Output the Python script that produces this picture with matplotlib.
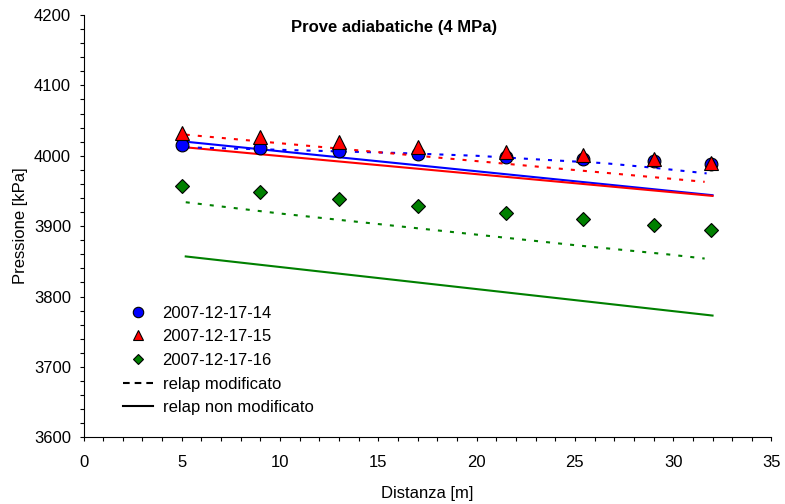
import matplotlib
matplotlib.use('Agg')
import matplotlib.pyplot as plt
from matplotlib.lines import Line2D
from matplotlib.ticker import MultipleLocator

plt.rcParams['font.family'] = ['Liberation Sans', 'DejaVu Sans']
plt.rcParams['lines.scale_dashes'] = False

# dati sperimentali (distanza [m], pressione [kPa])
x_exp = [5, 9, 13, 17, 21.5, 25.4, 29, 31.9]
p_14 = [4015, 4011, 4007, 4003, 3998, 3995, 3992, 3989]
p_15 = [4033, 4026, 4019, 4013, 4006, 4001, 3995, 3990]
p_16 = [3957, 3948, 3939, 3929, 3919, 3910, 3902, 3895]

# relap modificato
x_mod_14 = [5.2, 8, 12, 16, 20, 23, 26.5, 29, 31.7]
p_mod_14 = [4012, 4010, 4007, 4004, 4000, 3995, 3989.5, 3983, 3975]
x_mod_15 = [5.2, 31.6]
p_mod_15 = [4030, 3963]
x_mod_16 = [5.2, 10, 15, 20, 25, 29.7, 31.6]
p_mod_16 = [3934, 3918, 3903, 3888, 3873, 3860, 3854]

# relap non modificato
x_std = [5.2, 32]
p_std_14 = [4020, 3944]
p_std_15 = [4012, 3943]
p_std_16 = [3857, 3773]

labels = ['2007-12-17-14', '2007-12-17-15', '2007-12-17-16']
colori = ['#0000ff', '#ff0000', '#008000']
markers = ['o', '^', 'D']
msize = [9.2, 9.5, 6.7]
fs = 12

fig = plt.figure(figsize=(7.85, 5.04), dpi=100)
ax = fig.add_axes([0.1064, 0.1323, 0.8764, 0.8379])

dots = (0, (2.9, 5.8))
ax.plot(x_std, p_std_14, color=colori[0], lw=1.5, zorder=2)
ax.plot(x_std, p_std_15, color=colori[1], lw=1.5, zorder=2)
ax.plot(x_std, p_std_16, color=colori[2], lw=1.5, zorder=2)
ax.plot(x_mod_14, p_mod_14, color=colori[0], lw=1.5, ls=dots, zorder=2)
ax.plot(x_mod_15, p_mod_15, color=colori[1], lw=1.5, ls=dots, zorder=2)
ax.plot(x_mod_16, p_mod_16, color=colori[2], lw=1.5, ls=dots, zorder=2)

for p, c, m, s in zip([p_14, p_15, p_16], colori, markers, msize):
    ax.plot(x_exp, p, ls='none', marker=m, markersize=s, markerfacecolor=c,
            markeredgecolor='black', markeredgewidth=0.8, zorder=3)

ax.set_xlim(0, 35)
ax.set_ylim(3600, 4200)
ax.xaxis.set_major_locator(MultipleLocator(5))
ax.xaxis.set_minor_locator(MultipleLocator(1))
ax.yaxis.set_major_locator(MultipleLocator(100))
ax.yaxis.set_minor_locator(MultipleLocator(20))
ax.tick_params(which='both', direction='out', length=3, width=0.8, labelsize=fs)
ax.tick_params(axis='x', which='major', pad=10)
ax.tick_params(axis='y', which='major', pad=6)
for s in ['top', 'right']:
    ax.spines[s].set_visible(False)
for s in ['left', 'bottom']:
    ax.spines[s].set_linewidth(0.8)

ax.set_xlabel('Distanza [m]', fontsize=fs, labelpad=11)
ax.set_ylabel('Pressione [kPa]', fontsize=fs, labelpad=4)
ax.text(0.451, 0.9716, 'Prove adiabatiche (4 MPa)', transform=ax.transAxes,
        ha='center', va='center', fontsize=fs, fontweight='bold')

handles = []
for c, m, l in zip(colori, markers, labels):
    handles.append(Line2D([], [], ls='none', marker=m, markersize=7.5 if m != 'D' else 5.5,
                          markerfacecolor=c, markeredgecolor='black', markeredgewidth=0.8, label=l))
handles.append(Line2D([], [], color='black', lw=1.5, ls=(0, (4.8, 3.6)), label='relap modificato'))
handles.append(Line2D([], [], color='black', lw=1.5, label='relap non modificato'))
ax.legend(handles=handles, loc='upper left', bbox_to_anchor=(0.0567, 0.312),
          frameon=False, fontsize=fs, borderpad=0, borderaxespad=0,
          handlelength=1.8, handletextpad=0.6, labelspacing=0.52)

fig.savefig('out.png', dpi=100)
